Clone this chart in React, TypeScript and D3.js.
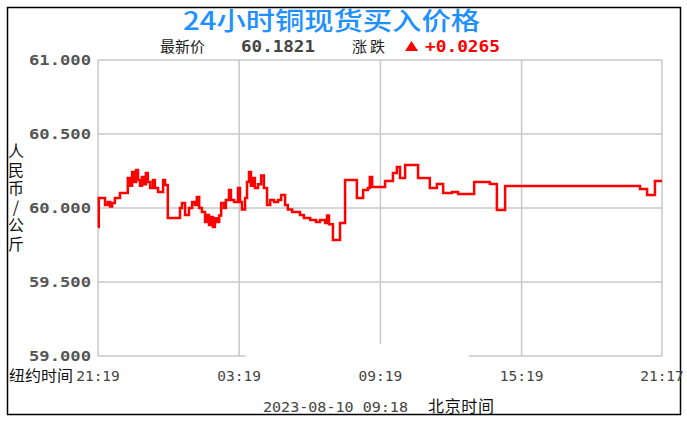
import * as d3 from "d3";

// 时间 (北京时间 HH:MM) 与 价格
const times = [
  "21:19", "21:21", "21:37", "21:44", "21:50", "21:55", "22:02", "22:15", "22:35", "22:41",
  "22:46", "22:51", "22:56", "23:01", "23:06", "23:11", "23:16", "23:21", "23:26", "23:32",
  "23:39", "23:44", "23:52", "00:05", "00:10", "00:17", "00:48", "00:53", "01:01", "01:11",
  "01:19", "01:26", "01:31", "01:37", "01:44", "01:52", "01:57", "02:02", "02:07", "02:12",
  "02:17", "02:22", "02:28", "02:33", "02:40", "02:45", "02:53", "02:58", "03:06", "03:16",
  "03:21", "03:26", "03:34", "03:39", "03:44", "03:49", "03:54", "03:59", "04:07", "04:15",
  "04:22", "04:30", "04:38", "04:48", "04:58", "05:06", "05:16", "05:23", "05:34", "05:54",
  "06:04", "06:20", "06:35", "06:45", "06:58", "07:03", "07:08", "07:18", "07:36", "07:49",
  "08:19", "08:35", "08:47", "08:52", "08:58", "09:31", "09:51", "10:01", "10:09", "10:22",
  "10:55", "11:25", "11:43", "11:59", "12:22", "12:37", "13:18", "13:58", "14:16", "14:37",
  "20:21", "20:39", "20:59", "21:17",
];
const prices = [
  59.872, 60.068, 60.02, 60.041, 60.01, 60.034, 60.068, 60.101, 60.203, 60.15,
  60.243, 60.176, 60.257, 60.189, 60.15, 60.21, 60.16, 60.236, 60.176, 60.135,
  60.189, 60.135, 60.108, 60.189, 60.155, 59.932, 60.0, 60.034, 59.953, 60.0,
  60.041, 60.02, 60.074, 60.0, 59.973, 59.905, 59.953, 59.885, 59.94, 59.872,
  59.93, 59.905, 59.95, 60.034, 60.0, 60.054, 60.122, 60.054, 60.041, 60.135,
  60.041, 59.99, 60.068, 60.176, 60.243, 60.15, 60.203, 60.135, 60.16, 60.22,
  60.135, 60.02, 60.054, 60.041, 60.054, 60.088, 60.02, 59.99, 59.973, 59.953,
  59.932, 59.919, 59.905, 59.919, 59.899, 59.95, 59.89, 59.784, 59.899, 60.189,
  60.068, 60.122, 60.135, 60.209, 60.142, 60.182, 60.236, 60.277, 60.203, 60.291,
  60.203, 60.135, 60.162, 60.101, 60.108, 60.095, 60.176, 60.162, 59.986, 60.149,
  60.128, 60.088, 60.182, 60.182,
];
const xTickLabels = ["21:19", "03:19", "09:19", "15:19", "21:17"];
const yTicks = [59.0, 59.5, 60.0, 60.5, 61.0];
const yLabel = "人民币/公斤";

const parse = d3.timeParse("%Y-%m-%d %H:%M");
// 21:19 以后属于前一天
const toDate = (t: string, isEnd = false) =>
  parse((t >= "21:19" && !isEnd ? "2023-08-09 " : "2023-08-10 ") + t)!;

export default function App() {
  const width = 687;
  const height = 426;
  const left = 98, right = 662, top = 60, bottom = 356;

  const data = times.map((t, i) => ({ date: toDate(t, i === times.length - 1), price: prices[i] }));

  const x = d3.scaleTime()
    .domain([toDate("21:19"), toDate("21:17", true)])
    .range([left, right]);
  const y = d3.scaleLinear().domain([59, 61]).range([bottom, top]);

  const line = d3.line<{ date: Date; price: number }>()
    .x(d => x(d.date))
    .y(d => y(d.price))
    .curve(d3.curveStepAfter);

  const mono = "'DejaVu Sans Mono', monospace";
  const cjk = "'Noto Sans CJK SC', sans-serif";

  return (
    <svg width={width} height={height} style={{ position: "absolute", left: 0, top: 0 }}>
      <rect x={0} y={0} width={width} height={height} fill="#fff" />
      <rect x={7.5} y={7.5} width={673} height={407} fill="#fff" stroke="#000" strokeWidth={1.5} />

      {/* grid */}
      {yTicks.map(v => (
        <line key={v} x1={left} x2={right} y1={y(v)} y2={y(v)} stroke="#c8c8c8" strokeWidth={1.5} />
      ))}
      {xTickLabels.map((t, i) => {
        const xv = x(toDate(t, i === xTickLabels.length - 1));
        return <line key={t} x1={xv} x2={xv} y1={top} y2={bottom} stroke="#c8c8c8" strokeWidth={1.5} />;
      })}

      <path d={line(data) ?? ""} fill="none" stroke="#ff0000" strokeWidth={2.5} />

      {/* erased patch at the bottom */}
      <path d="M240,344 L474,344 C470,372 425,384 357,384 C290,384 246,372 240,344 Z" fill="#fff" />

      {/* title */}
      <text x={183} y={30} fontFamily={cjk} fontSize={25} fontWeight={500} fill="#1e90ff"
        textLength={297} lengthAdjust="spacingAndGlyphs">24小时铜现货买入价格</text>

      <text x={160} y={52} fontFamily={cjk} fontSize={15} fill="#222" textLength={45}>最新价</text>
      <text x={241} y={52} fontFamily={mono} fontWeight="bold" fontSize={15} fill="#444"
        textLength={74} lengthAdjust="spacingAndGlyphs">60.1821</text>
      <text x={352} y={52} fontFamily={cjk} fontSize={15} fill="#222" textLength={33}>涨跌</text>
      <path d="M405,51 L411.5,41 L418,51 Z" fill="#ff0000" />
      <text x={425} y={52} fontFamily={mono} fontWeight="bold" fontSize={15} fill="#ff0000"
        textLength={75} lengthAdjust="spacingAndGlyphs">+0.0265</text>

      {/* y tick labels */}
      {yTicks.map(v => (
        <text key={v} x={91} y={y(v) + 5} textAnchor="end" fontFamily={mono} fontWeight="bold"
          fontSize={14.5} fill="#555" textLength={62} lengthAdjust="spacingAndGlyphs">
          {d3.format(".3f")(v)}
        </text>
      ))}

      {/* y axis title, vertical */}
      <text x={16} y={143} fontFamily={cjk} fontSize={16} fill="#111"
        style={{ writingMode: "vertical-rl", textOrientation: "upright", letterSpacing: "2.5px" }}>
        {yLabel}
      </text>

      {/* x labels */}
      <text x={9} y={381} fontFamily={cjk} fontSize={15} fill="#111"
        textLength={64} lengthAdjust="spacingAndGlyphs">纽约时间</text>
      {xTickLabels.map((t, i) => (
        <text key={t} x={x(toDate(t, i === xTickLabels.length - 1))} y={381} textAnchor="middle"
          fontFamily={mono} fontSize={14.5} fill="#444">{t}</text>
      ))}

      <text x={263} y={412} fontFamily={mono} fontSize={14.5} fill="#444"
        textLength={145} lengthAdjust="spacingAndGlyphs">2023-08-10 09:18</text>
      <text x={428} y={412} fontFamily={cjk} fontSize={16} fill="#111" textLength={66}>北京时间</text>
    </svg>
  );
}
